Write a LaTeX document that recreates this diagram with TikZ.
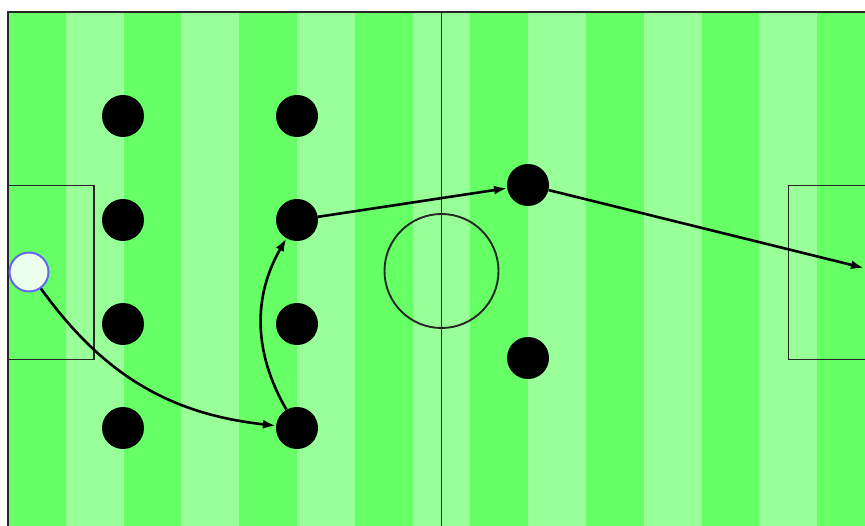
\documentclass[tikz,border=0pt]{standalone}
\usetikzlibrary{arrows.meta}
\definecolor{darkgrass}{RGB}{102,255,102}
\definecolor{lightgrass}{RGB}{153,255,153}
\definecolor{gkfill}{RGB}{236,255,236}
\definecolor{gkline}{RGB}{102,102,238}
\begin{document}
\begin{tikzpicture}[x=1pt,y=-1pt,
  player/.style={circle,fill=black,minimum size=42pt,inner sep=0pt},
  keeper/.style={circle,fill=gkfill,draw=gkline,line width=2pt,minimum size=39pt,inner sep=0pt},
  pitchline/.style={draw=black!85,line width=1.9pt},
  pass/.style={draw=black,line width=2.6pt,-{Latex[length=13pt,width=9pt]}}]
\useasboundingbox (0,0) rectangle (865,526);
\clip (0,0) rectangle (865,526);
% stripes
\foreach \i in {0,...,14}{
  \pgfmathsetmacro{\xa}{8+57.8*\i}
  \pgfmathsetmacro{\xb}{8+57.8*(\i+1)}
  \pgfmathtruncatemacro{\odd}{mod(\i,2)}
  \ifnum\odd=0
    \fill[darkgrass] (\xa,12) rectangle (\xb,540);
  \else
    \fill[lightgrass] (\xa,12) rectangle (\xb,540);
  \fi
}
% pitch markings
\draw[pitchline] (8,12) rectangle (875,530);
\draw[pitchline] (441.5,12) -- (441.5,530);
\draw[pitchline] (441.5,271) circle (57);
\draw[pitchline] (8,185.5) rectangle (94,359.5);
\draw[pitchline] (875,185.5) rectangle (788.5,359.5);
% players
\node[keeper] (gk) at (29,272) {};
\node[player] (d1) at (123,116) {};
\node[player] (d2) at (123,220) {};
\node[player] (d3) at (123,324) {};
\node[player] (d4) at (123,428) {};
\node[player] (m1) at (297,116) {};
\node[player] (m2) at (297,220) {};
\node[player] (m3) at (297,324) {};
\node[player] (m4) at (297,428) {};
\node[player] (f1) at (528,185) {};
\node[player] (f2) at (528,358) {};
\coordinate (goal) at (864,268);
% passes
\draw[pass] (gk) to[bend right=24] (m4);
\draw[pass] (m4) to[bend left=30] (m2);
\draw[pass] (m2) -- (f1);
\draw[pass] (f1) -- (goal);
\end{tikzpicture}
\end{document}
